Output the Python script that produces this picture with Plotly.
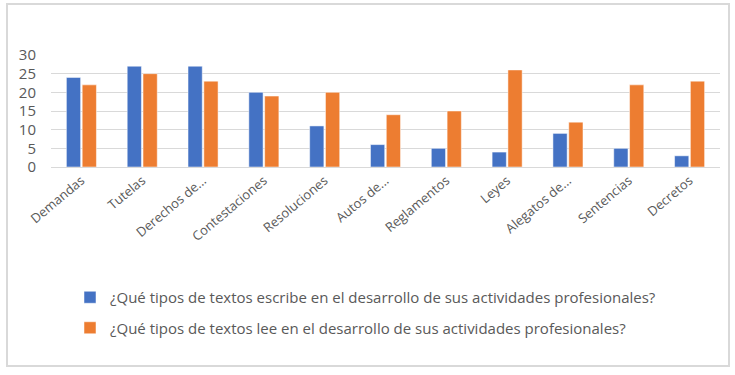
import plotly.graph_objects as go

categories = ["Demandas", "Tutelas", "Derechos de...", "Contestaciones", "Resoluciones",
              "Autos de...", "Reglamentos", "Leyes", "Alegatos de...", "Sentencias", "Decretos"]
escribe = [24, 27, 27, 20, 11, 6, 5, 4, 9, 5, 3]
lee = [22, 25, 23, 19, 20, 14, 15, 26, 12, 22, 23]
name_escribe = "¿Qué tipos de textos escribe en el desarrollo de sus actividades profesionales?"
name_lee = "¿Qué tipos de textos lee en el desarrollo de sus actividades profesionales?"
y_ticks = [0, 5, 10, 15, 20, 25, 30]

W, H = 735, 375
L, R, T, B = 51, 15, 55, 208
pw, ph = W - L - R, H - T - B

def px_x(x):  # page pixel -> paper coord
    return (x - L) / pw

def px_y(y):
    return (H - B - y) / ph

fig = go.Figure()
fig.add_trace(go.Bar(x=categories, y=escribe, name=name_escribe,
                     marker=dict(color="#4472C4", line=dict(color="#ffffff", width=0.5)),
                     legendgroup="a"))
fig.add_trace(go.Bar(x=categories, y=lee, name=name_lee,
                     marker=dict(color="#ED7D31", line=dict(color="#ffffff", width=0.5)),
                     legendgroup="b"))

font_family = "Open Sans, Liberation Sans, sans-serif"
fig.update_layout(
    template="none",
    width=W, height=H,
    margin=dict(l=L, r=R, t=T, b=B, autoexpand=False),
    paper_bgcolor="white", plot_bgcolor="white",
    barmode="group", bargap=0.48, bargroupgap=0.1,
    font=dict(family=font_family, color="#595959", size=12),
    showlegend=True,
    legend=dict(x=px_x(70), y=px_y(281), xanchor="left", yanchor="top",
                orientation="v", tracegroupgap=8,
                font=dict(size=15, color="#595959"),
                itemwidth=30, bgcolor="rgba(0,0,0,0)"),
    xaxis=dict(tickangle=-40, tickfont=dict(size=13, color="#595959"),
               showline=True, linecolor="#d9d9d9", linewidth=1, ticks="",
               showgrid=False, automargin=False),
    yaxis=dict(range=[0, 30], tickvals=y_ticks, showgrid=True, gridcolor="#d9d9d9",
               gridwidth=1, zeroline=False, tickfont=dict(size=15, color="#595959"),
               ticks="", showline=False, automargin=False, ticklabelstandoff=14),
    shapes=[dict(type="rect", xref="paper", yref="paper",
                 x0=px_x(7), x1=px_x(729), y0=px_y(366), y1=px_y(4),
                 line=dict(color="#d9d9d9", width=2), fillcolor="rgba(0,0,0,0)",
                 layer="below")],
)

fig.write_html(
    "out.html",
    config={"displayModeBar": False},
    post_script="document.body.style.margin='0px';document.body.style.overflow='hidden';",
)
